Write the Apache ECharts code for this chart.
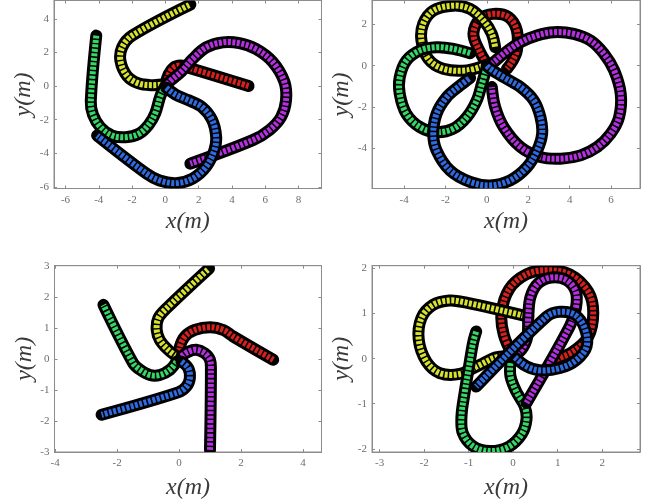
<!DOCTYPE html>
<html><head><meta charset="utf-8">
<script src="https://cdn.jsdelivr.net/npm/echarts@6/dist/echarts.min.js"></script>
<style>html,body{margin:0;padding:0;background:#fff}#c{width:654px;height:501px}</style>
</head><body><div id="c"></div>
<script>
// ---- tick labels ----
const p1XTicks = [-6,-4,-2,0,2,4,6,8];
const p1YTicks = [-6,-4,-2,0,2,4];
const p2XTicks = [-4,-2,0,2,4,6];
const p2YTicks = [-4,-2,0,2];
const p3XTicks = [-4,-2,0,2,4];
const p3YTicks = [-3,-2,-1,0,1,2,3];
const p4XTicks = [-3,-2,-1,0,1,2];
const p4YTicks = [-2,-1,0,1,2];

// ---- trajectories, panel 1 ----
const p1Red = [[0,0.1],[0.2,0.7],[0.5,1.1],[0.9,1.22],[1.3,1.12],[5.0,0]];
const p1Yellow = [[0,0.1],[-0.8,0.05],[-1.6,0.15],[-2.3,0.6],[-2.7,1.5],[-2.6,2.3],[-2.0,3.0],[1.5,4.85]];
const p1Green = [[0,0],[-0.3,-0.6],[-0.6,-1.6],[-1.0,-2.3],[-1.6,-2.85],[-2.4,-3.05],[-3.2,-2.95],[-3.9,-2.45],[-4.35,-1.7],[-4.48,-0.9],[-4.15,3.0]];
const p1Blue = [[0.05,-0.1],[0.6,-0.5],[1.4,-0.85],[2.2,-1.25],[2.8,-2.0],[3.05,-3.0],[2.95,-3.8],[2.45,-4.8],[1.65,-5.5],[0.65,-5.78],[-0.35,-5.62],[-1.15,-5.2],[-4.1,-2.95]];
const p1Purple = [[0.1,0.1],[0.35,0.35],[0.95,0.85],[1.65,1.62],[2.45,2.3],[3.45,2.6],[4.45,2.55],[5.45,2.2],[6.45,1.43],[7.15,0.25],[7.25,-0.85],[6.95,-1.85],[6.25,-2.62],[5.25,-3.22],[1.5,-4.62]];

// ---- panel 2 ----
const p2Red = [[0,0.1],[-0.35,0.7],[-0.65,1.55],[-0.32,2.28],[0.32,2.52],[1.05,2.36],[1.45,1.71],[1.45,0.74],[1.21,0.18],[0.97,-0.15]];
const p2Yellow = [[0,0.05],[-0.97,-0.23],[-2.11,-0.15],[-2.83,0.33],[-3.16,1.22],[-3.08,2.03],[-2.59,2.68],[-1.62,2.92],[-0.81,2.76],[-0.16,2.19],[0.24,1.55],[0.4,0.9]];
const p2Green = [[0,-0.05],[-0.24,-0.88],[-0.49,-1.69],[-0.97,-2.5],[-1.62,-3.06],[-2.43,-3.23],[-3.24,-2.98],[-3.89,-2.34],[-4.21,-1.37],[-4.21,-0.56],[-3.89,0.25],[-3.24,0.74],[-2.43,0.9],[-1.62,0.82],[-0.81,0.61]];
const p2Blue = [[0,0],[0.16,-0.15],[0.81,-0.56],[1.62,-1.04],[2.27,-1.69],[2.59,-2.5],[2.67,-3.31],[2.43,-4.12],[1.94,-4.93],[1.13,-5.57],[0.16,-5.82],[-0.81,-5.65],[-1.78,-5.09],[-2.43,-4.12],[-2.59,-3.31],[-2.43,-2.34],[-1.94,-1.53],[-1.29,-0.96],[-0.81,-0.59]];
const p2Purple = [[0,0],[0.24,0.1],[0.81,0.58],[1.62,1.14],[2.42,1.47],[3.23,1.63],[4.2,1.55],[5.01,1.22],[5.66,0.58],[6.15,-0.23],[6.47,-1.37],[6.39,-2.5],[5.98,-3.31],[5.34,-3.95],[4.53,-4.36],[3.56,-4.52],[2.59,-4.44],[1.62,-3.95],[0.81,-2.98],[0.4,-2.01],[0.24,-1.04]];

// ---- panel 3 ----
const p3Red = [[0,0.1],[0.03,0.4],[0.19,0.72],[0.51,0.93],[1.0,1.02],[1.43,0.93],[1.75,0.72],[3.04,-0.03]];
const p3Yellow = [[-0.08,0.08],[-0.35,0.29],[-0.62,0.61],[-0.72,0.93],[-0.67,1.31],[-0.4,1.63],[0.97,2.91]];
const p3Green = [[-0.08,-0.09],[-0.29,-0.35],[-0.62,-0.52],[-0.94,-0.52],[-1.26,-0.35],[-1.48,-0.14],[-2.44,1.74]];
const p3Blue = [[0.08,-0.09],[0.3,-0.3],[0.35,-0.62],[0.24,-0.89],[-0.03,-1.08],[-2.5,-1.8]];
const p3Purple = [[0.08,0.08],[0.3,0.23],[0.56,0.29],[0.83,0.18],[1.0,-0.03],[1.03,-0.35],[1.0,-2.93]];

// ---- panel 4 ----
const p4Red = [[0,0.05],[-0.21,0.53],[-0.26,1.01],[-0.09,1.54],[0.3,1.87],[0.75,1.96],[1.27,1.87],[1.69,1.48],[1.8,1.01],[1.69,0.49],[1.35,0.16],[0.97,-0.01]];
const p4Yellow = [[-0.04,0.06],[-0.38,0.03],[-0.75,-0.14],[-1.2,-0.34],[-1.65,-0.32],[-1.95,-0.06],[-2.12,0.42],[-2.06,0.9],[-1.8,1.19],[-1.43,1.29],[-1.05,1.24],[0.34,0.93]];
const p4Green = [[-0.06,-0.1],[-0.06,-0.39],[0.07,-0.73],[0.26,-1.06],[0.3,-1.35],[0.19,-1.68],[-0.11,-1.96],[-0.53,-2.05],[-0.9,-1.94],[-1.13,-1.65],[-1.16,-1.28],[-1.09,-0.76],[-0.99,-0.17],[-0.9,0.35],[-0.83,0.6]];
const p4Blue = [[0.04,0.03],[0.3,-0.17],[0.6,-0.26],[1.05,-0.21],[1.42,-0.03],[1.65,0.27],[1.61,0.67],[1.39,0.97],[1.05,1.04],[0.75,0.93],[-0.83,-0.62]];
const p4Purple = [[0,0.05],[0.19,0.2],[0.32,0.49],[0.34,0.93],[0.39,1.37],[0.56,1.67],[0.86,1.8],[1.2,1.74],[1.41,1.48],[1.41,1.12],[1.27,0.71],[0.3,-0.98]];

const colors = {red:'#d8201c', yellow:'#d6e22e', green:'#35d866', blue:'#2f6be0', purple:'#b62fe0'};

const panels = [
  {grid:{left:54, top:0.5, width:267.5, height:188}, x:[-6.69,9.38], y:[-6.1,5.09], xt:p1XTicks, yt:p1YTicks, xGap:21,
   curves:[['red',p1Red],['yellow',p1Yellow],['green',p1Green],['purple',p1Purple],['blue',p1Blue]]},
  {grid:{left:372, top:0.5, width:268, height:188}, x:[-5.55,7.40], y:[-5.97,3.17], xt:p2XTicks, yt:p2YTicks, xGap:21,
   curves:[['red',p2Red],['yellow',p2Yellow],['green',p2Green],['purple',p2Purple],['blue',p2Blue]]},
  {grid:{left:54.5, top:265.7, width:267, height:187}, x:[-4.02,4.6], y:[-3,3], xt:p3XTicks, yt:p3YTicks, xGap:24,
   curves:[['red',p3Red],['yellow',p3Yellow],['green',p3Green],['purple',p3Purple],['blue',p3Blue]]},
  {grid:{left:372, top:265.7, width:268, height:187.6}, x:[-3.17,2.85], y:[-2.07,2.06], xt:p4XTicks, yt:p4YTicks, xGap:24,
   curves:[['red',p4Red],['yellow',p4Yellow],['green',p4Green],['purple',p4Purple],['blue',p4Blue]]}
];

const frameColor = '#8c8c8c';
const labelStyle = {color:'#6e6e6e', fontFamily:'Liberation Serif', fontSize:11};
const nameStyle = {color:'#3a3a3a', fontFamily:'Liberation Serif', fontStyle:'italic', fontSize:24};
const SMOOTH = 0.35;

function trajectorySeries(i, color, data) {
  return {
    type:'custom', xAxisIndex:2*i, yAxisIndex:2*i, data:data, silent:true, animation:false, clip:true,
    renderItem: function (params, api) {
      if (params.dataIndex !== 0) return null;
      const pts = data.map(d => api.coord(d));
      return {type:'group', children:[
        {type:'polyline', shape:{points:pts, smooth:SMOOTH},
         style:{stroke:'#000', lineWidth:12, fill:null, lineCap:'round', lineJoin:'round'}},
        {type:'polyline', shape:{points:pts, smooth:SMOOTH},
         style:{stroke:color, lineWidth:6, fill:null, lineDash:[3,1.5], lineCap:'butt', lineJoin:'round'}}
      ]};
    }
  };
}

const grid = [], xAxis = [], yAxis = [], series = [];
panels.forEach((p, i) => {
  grid.push(Object.assign({show:true, borderColor:frameColor, borderWidth:1, backgroundColor:'#fff'}, p.grid));
  const tick = vals => ({show:true, inside:true, length:3, customValues:vals, lineStyle:{color:frameColor}});
  xAxis.push({gridIndex:i, type:'value', min:p.x[0], max:p.x[1], position:'bottom',
    axisLine:{show:true, onZero:false, lineStyle:{color:frameColor}}, axisTick:tick(p.xt),
    axisLabel:Object.assign({customValues:p.xt, margin:6}, labelStyle), splitLine:{show:false},
    name:'x(m)', nameLocation:'middle', nameGap:p.xGap, nameTextStyle:nameStyle});
  xAxis.push({gridIndex:i, type:'value', min:p.x[0], max:p.x[1], position:'top',
    axisLine:{show:true, onZero:false, lineStyle:{color:frameColor}}, axisTick:tick(p.xt),
    axisLabel:{show:false}, splitLine:{show:false}});
  yAxis.push({gridIndex:i, type:'value', min:p.y[0], max:p.y[1], position:'left',
    axisLine:{show:true, onZero:false, lineStyle:{color:frameColor}}, axisTick:tick(p.yt),
    axisLabel:Object.assign({customValues:p.yt, margin:5}, labelStyle), splitLine:{show:false},
    name:'y(m)', nameLocation:'middle', nameGap:17, nameTextStyle:nameStyle});
  yAxis.push({gridIndex:i, type:'value', min:p.y[0], max:p.y[1], position:'right',
    axisLine:{show:true, onZero:false, lineStyle:{color:frameColor}}, axisTick:tick(p.yt),
    axisLabel:{show:false}, splitLine:{show:false}});
  p.curves.forEach(([c, data]) => series.push(trajectorySeries(i, colors[c], data)));
});

const chart = echarts.init(document.getElementById('c'), null, {renderer:'canvas'});
chart.setOption({animation:false, backgroundColor:'#fff', grid, xAxis, yAxis, series});
</script>
</body></html>
